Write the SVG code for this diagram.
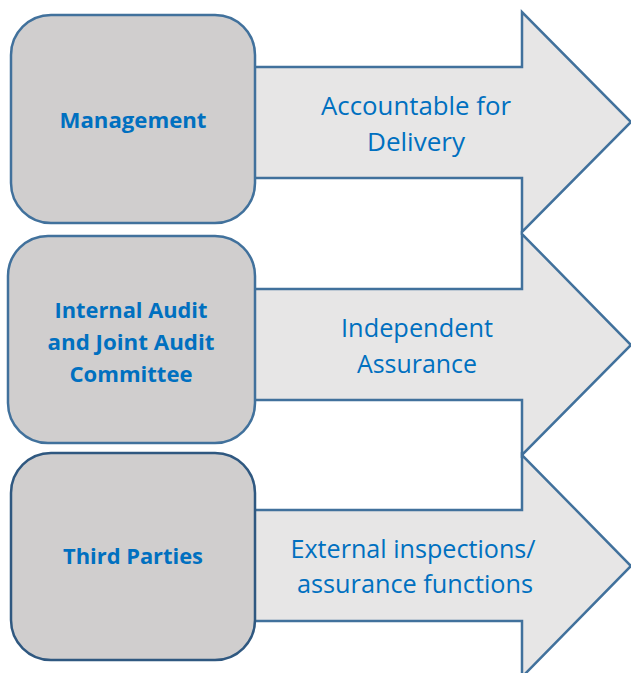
<svg xmlns="http://www.w3.org/2000/svg" width="631" height="673" viewBox="0 0 631 673">
<style>
.arrow{fill:#e7e6e6;stroke:#41719c;stroke-width:2.5;stroke-linejoin:miter}
.box{fill:#d0cece;stroke:#41719c;stroke-width:2.5}
.box3{fill:#d0cece;stroke:#2f5880;stroke-width:2.5}
.lbl{font-family:"Open Sans","Liberation Sans",sans-serif;font-size:25px;fill:#0070c0;text-anchor:middle}
.nlbl{font-family:"Open Sans","Liberation Sans",sans-serif;font-size:22px;font-weight:bold;fill:#0070c0;text-anchor:middle}
</style>
<rect width="631" height="673" fill="#ffffff"/>
<g id="connectors">
<path id="arrow1" class="arrow" d="M240,67 H522 V12 L631,122 L522,232 V178 H240 Z"/>
<path id="arrow2" class="arrow" d="M240,289 H522 V234 L631,345 L522,455 V400 H240 Z"/>
<path id="arrow3" class="arrow" d="M240,510 H522 V455 L631,566 L522,677 V621 H240 Z"/>
<text class="lbl" x="416" y="115" textLength="190" lengthAdjust="spacingAndGlyphs">Accountable for</text>
<text class="lbl" x="416" y="151" textLength="98" lengthAdjust="spacingAndGlyphs">Delivery</text>
<text class="lbl" x="417" y="337" textLength="152" lengthAdjust="spacingAndGlyphs">Independent</text>
<text class="lbl" x="417" y="373" textLength="120" lengthAdjust="spacingAndGlyphs">Assurance</text>
<text class="lbl" x="413" y="558" textLength="245" lengthAdjust="spacingAndGlyphs">External inspections/</text>
<text class="lbl" x="415" y="593" textLength="236" lengthAdjust="spacingAndGlyphs">assurance functions</text>
</g>
<g id="node-management">
<rect class="box" x="11" y="15" width="244" height="208" rx="40" ry="40"/>
<text class="nlbl" x="133" y="128" textLength="147" lengthAdjust="spacingAndGlyphs">Management</text>
</g>
<g id="node-internal-audit">
<rect class="box" x="8" y="236" width="247" height="207" rx="40" ry="40"/>
<text class="nlbl" x="131" y="318" textLength="153" lengthAdjust="spacingAndGlyphs">Internal Audit</text>
<text class="nlbl" x="131" y="350" textLength="167" lengthAdjust="spacingAndGlyphs">and Joint Audit</text>
<text class="nlbl" x="131" y="382" textLength="123" lengthAdjust="spacingAndGlyphs">Committee</text>
</g>
<g id="node-third-parties">
<rect class="box3" x="11" y="453" width="244" height="207" rx="40" ry="40"/>
<text class="nlbl" x="133" y="564" textLength="140" lengthAdjust="spacingAndGlyphs">Third Parties</text>
</g>
</svg>
